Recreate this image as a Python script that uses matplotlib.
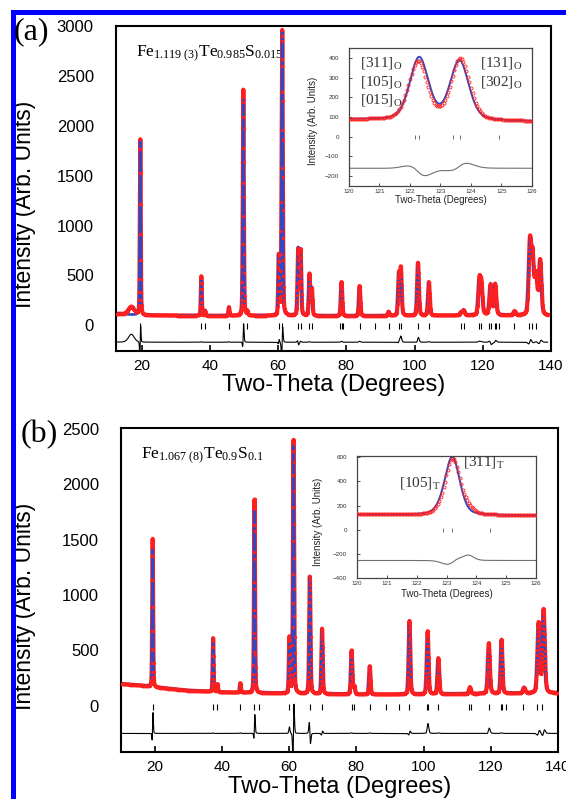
import numpy as np
import matplotlib
matplotlib.use('Agg')
import matplotlib.pyplot as plt
from matplotlib.patches import Rectangle

plt.rcParams['font.family'] = ['Liberation Sans', 'DejaVu Sans']
plt.rcParams['mathtext.fontset'] = 'custom'
plt.rcParams['mathtext.rm'] = 'Liberation Serif'
plt.rcParams['mathtext.it'] = 'Liberation Serif:italic'
plt.rcParams['mathtext.bf'] = 'Liberation Serif:bold'

RED = '#ff1f1f'
BLUE = '#3446c0'

# ---- panel (a): Fe1.119Te0.985S0.015 ----
bg_x_a = [12.5, 20, 40, 60, 80, 100, 120, 139]
bg_y_a = [115, 100, 95, 95, 92, 95, 100, 95]
pos_a = [19.6, 37.5, 38.6, 45.6, 49.8, 51.0, 60.2, 61.2, 65.9, 66.6, 69.2, 69.9,
         78.6, 83.9, 92.4, 95.4, 96.0, 101.0, 104.2, 113.6, 114.4, 119.0, 119.6,
         122.3, 123.6, 129.3, 133.8, 134.6, 135.6, 136.8]
calc_h_a = [1750, 390, 50, 80, 2160, 40, 580, 2850, 670, 640, 410, 270,
            330, 290, 40, 400, 400, 490, 330, 30, 50, 320, 280,
            310, 300, 40, 700, 560, 380, 540]
obs_h_a = [1760, 395, 50, 85, 2270, 40, 590, 2860, 660, 650, 415, 270,
           340, 300, 40, 405, 460, 530, 335, 30, 50, 330, 285,
           300, 310, 40, 710, 550, 385, 545]
obs_shift_a = [0.02, 0.0, 0.0, 0.0, 0.012, 0.0, 0.01, 0.015, -0.01, 0.0, 0.0, 0.0,
               0.0, 0.0, 0.0, 0.01, 0.0, 0.015, 0.0, 0.0, 0.0, 0.0, 0.0,
               -0.03, 0.02, 0.0, 0.02, 0.0, 0.0, 0.02]
fwhm_a = [0.30, 0.32, 0.35, 0.35, 0.35, 0.35, 0.38, 0.40, 0.45, 0.45, 0.45, 0.45,
          0.50, 0.50, 0.55, 0.55, 0.55, 0.60, 0.60, 0.70, 0.70, 0.75, 0.75,
          0.75, 0.75, 0.80, 0.85, 0.85, 0.85, 0.85]
extra_obs_a = ([17.0], [80], [2.0])   # amorphous bump present only in data
refl_a = [19.6, 37.5, 38.6, 45.6, 49.8, 51.0, 60.2, 61.2, 65.9, 66.6, 69.2, 69.9,
          78.2, 78.6, 79.0, 83.9, 88.5, 92.4, 95.4, 96.0, 101.0, 104.2, 113.6,
          114.4, 119.0, 119.6, 121.9, 122.3, 123.6, 124.0, 124.9, 129.3, 133.5,
          134.3, 135.6]

# ---- panel (b): Fe1.067Te0.9S0.1 ----
bg_x_b = [10, 15, 20, 30, 40, 60, 80, 100, 120, 140]
bg_y_b = [195, 185, 165, 135, 120, 108, 100, 100, 108, 112]
pos_b = [19.4, 37.4, 38.7, 45.5, 49.7, 60.1, 61.3, 66.2, 69.8, 78.6, 79.4, 84.0,
         95.8, 101.2, 104.4, 113.8, 119.4, 123.2, 129.9, 134.2, 135.7]
calc_h_b = [1240, 480, 70, 80, 1650, 440, 2245, 1055, 585, 390, 70, 250,
            660, 490, 320, 60, 415, 480, 50, 620, 740]
obs_h_b = [1340, 485, 70, 85, 1750, 500, 2295, 1060, 590, 395, 70, 255,
           665, 570, 325, 60, 455, 485, 50, 630, 750]
obs_shift_b = [0.02, 0.0, 0.0, 0.0, 0.015, 0.0, 0.03, -0.03, 0.01, 0.0, 0.0, 0.0,
               0.01, 0.02, 0.0, 0.0, 0.02, 0.0, 0.0, 0.02, 0.02]
fwhm_b = [0.30, 0.32, 0.35, 0.35, 0.35, 0.38, 0.40, 0.45, 0.45, 0.50, 0.50, 0.50,
          0.55, 0.60, 0.60, 0.70, 0.70, 0.60, 0.80, 0.80, 0.80]
refl_b = [19.4, 37.4, 38.7, 45.5, 49.7, 51.0, 60.1, 61.3, 66.2, 69.8, 78.6, 79.4,
          84.0, 88.7, 92.7, 95.8, 101.0, 101.4, 104.4, 113.5, 114.1, 119.4, 122.9,
          123.3, 124.5, 129.6, 133.9, 135.3]

# ---- insets (120-126 deg) ----
ins_bg_a = [88, 78]
ins_pos_a = [122.3, 123.62]
ins_calc_a = [315, 300]
ins_obs_a = [295, 312]
ins_shift_a = [-0.04, 0.03]
ins_fwhm_a = [0.72, 0.72]
ins_refl_a = [122.16, 122.3, 123.42, 123.64, 124.92]

ins_bg_b = [125, 118]
ins_pos_b = [122.87, 123.2]
ins_calc_b = [30, 470]
ins_obs_b = [30, 455]
ins_shift_b = [0.0, 0.02]
ins_fwhm_b = [0.6, 0.58]
ins_extra_b = ([123.75], [40], [0.4])
ins_refl_b = [122.87, 123.18, 124.45]


def profile(x, pos, hgt, fwhm, eta=0.3):
    y = np.zeros_like(x)
    for p, h, w in zip(pos, hgt, fwhm):
        d = (x - p) / w
        y += h * ((1 - eta) * np.exp(-4 * np.log(2) * d ** 2) + eta / (1 + 4 * d ** 2))
    return y


W, H = 566, 799
fig = plt.figure(figsize=(W / 100, H / 100), dpi=100)


def fig_rect(l, r, t, b):
    return [l / W, (H - b) / H, (r - l) / W, (b - t) / H]


def main_panel(rect, xlim, ylim, yticks, x, bg, calc, obs, refl, tick_y, diff_off,
               formula, ylab_x, xlab_y):
    ax = fig.add_axes(rect)
    ax.plot(x, obs, color=RED, lw=3.0, zorder=1.5, solid_joinstyle='round')
    ax.plot(x, calc, color=BLUE, lw=1.9, zorder=2)
    ax.plot(x[::2], obs[::2], 'o', color=RED, ms=2.3, mew=0, zorder=3)
    ax.plot(refl, np.full(len(refl), tick_y), '|', color='k', ms=5, mew=0.8)
    ax.plot(x, obs - calc + diff_off, color='k', lw=0.8)
    ax.set_xlim(*xlim)
    ax.set_ylim(*ylim)
    ax.set_xticks([20, 40, 60, 80, 100, 120, 140])
    ax.set_yticks(yticks)
    ax.tick_params(axis='x', direction='in', length=4, width=1.2, labelsize=11, pad=6)
    ax.tick_params(axis='y', length=0, labelsize=12, pad=16)
    for s in ax.spines.values():
        s.set_linewidth(1.5)
    ax.set_ylabel('Intensity (Arb. Units)', fontsize=16.5)
    ax.yaxis.set_label_coords(ylab_x, 0.45)
    ax.set_xlabel('Two-Theta (Degrees)', fontsize=17)
    ax.xaxis.label.set_va('center')
    ax.xaxis.set_label_coords(0.5, xlab_y)
    ax.text(0.045, 0.915, formula, transform=ax.transAxes, fontsize=12.5,
            va='center', ha='left', zorder=1)
    return ax


def inset(rect, ylim, yticks, bg, pos, hc, ho, sh, fw, refl, diff_off, labels,
          extra=None, ylab=(-0.17, 0.47), xlab=-0.1):
    ax = fig.add_axes(rect, facecolor='white', zorder=5)
    xi = np.linspace(120, 126, 601)
    xo = np.arange(120, 126.001, 0.05)
    b_i = np.interp(xi, [120, 126], bg)
    b_o = np.interp(xo, [120, 126], bg)
    calc_i = b_i + profile(xi, pos, hc, fw)
    calc_o = b_o + profile(xo, pos, hc, fw)
    obs_o = b_o + profile(xo, np.add(pos, sh), ho, fw)
    if extra is not None:
        obs_o += profile(xo, *extra)
    ax.plot(xi, calc_i, color=BLUE, lw=1.4, zorder=2)
    ax.plot(xo, obs_o, 'o', ms=2.2, mfc='none', mec=RED, mew=0.6, zorder=3)
    ax.plot(xo, obs_o - calc_o + diff_off, color='#707070', lw=0.8)
    ax.plot(refl, np.zeros(len(refl)), '|', color='#555555', ms=2.5, mew=0.6)
    ax.set_xlim(120, 126)
    ax.set_ylim(*ylim)
    ax.set_xticks(range(120, 127))
    ax.set_yticks(yticks)
    ax.tick_params(direction='in', length=2, width=0.6, labelsize=4.5, pad=2,
                   colors='#333333')
    ax.tick_params(axis='y', pad=7)
    for s in ax.spines.values():
        s.set_linewidth(0.9)
        s.set_color('#444444')
    ax.set_ylabel('Intensity (Arb. Units)', fontsize=7, color='#222222')
    ax.yaxis.set_label_coords(*ylab)
    ax.set_xlabel('Two-Theta (Degrees)', fontsize=7, color='#222222')
    ax.xaxis.label.set_va('center')
    ax.xaxis.set_label_coords(0.5, xlab)
    for (tx, ty, s) in labels:
        ax.text(tx, ty, s, fontsize=11, color='#333333', ha='left', va='center')
    return ax


# panel (a)
x_a = np.arange(12.5, 139.001, 0.02)
bg_a = np.interp(x_a, bg_x_a, bg_y_a)
calc_a = bg_a + profile(x_a, pos_a, calc_h_a, fwhm_a)
obs_a = bg_a + profile(x_a, np.add(pos_a, obs_shift_a), obs_h_a, fwhm_a) \
    + profile(x_a, *extra_obs_a)
main_panel(fig_rect(116, 551, 26, 351), (12.5, 139), (-258, 3000),
           range(0, 3001, 500), x_a, bg_a, calc_a, obs_a, refl_a, -12, -170,
           r'$\mathrm{Fe_{1.119\ (3)}Te_{0.985}S_{0.015}}$', -0.184, -0.105)
inset(fig_rect(349, 532, 48, 186), (-250, 450), range(-200, 401, 100),
      ins_bg_a, ins_pos_a, ins_calc_a, ins_obs_a, ins_shift_a, ins_fwhm_a,
      ins_refl_a, -160,
      [(120.36, 374, r'$\mathrm{[311]_O}$'), (120.36, 278, r'$\mathrm{[105]_O}$'),
       (120.36, 186, r'$\mathrm{[015]_O}$'), (124.3, 374, r'$\mathrm{[131]_O}$'),
       (124.3, 278, r'$\mathrm{[302]_O}$')])

# panel (b)
x_b = np.arange(10, 140.001, 0.02)
bg_b = np.interp(x_b, bg_x_b, bg_y_b)
calc_b = bg_b + profile(x_b, pos_b, calc_h_b, fwhm_b)
obs_b = bg_b + profile(x_b, np.add(pos_b, obs_shift_b), obs_h_b, fwhm_b)
main_panel(fig_rect(121, 558, 428, 752), (10, 140), (-420, 2510),
           range(0, 2501, 500), x_b, bg_b, calc_b, obs_b, refl_b, -10, -252,
           r'$\mathrm{Fe_{1.067\ (8)}Te_{0.9}S_{0.1}}$', -0.195, -0.108)
inset(fig_rect(357, 536, 456, 578), (-400, 610), range(-400, 601, 200),
      ins_bg_b, ins_pos_b, ins_calc_b, ins_obs_b, ins_shift_b, ins_fwhm_b,
      ins_refl_b, -255,
      [(121.4, 386, r'$\mathrm{[105]_T}$'), (123.55, 560, r'$\mathrm{[311]_T}$')],
      extra=ins_extra_b, ylab=(-0.19, 0.46), xlab=-0.13)

# panel letters
fig.text(14 / W, 1 - 32 / H, '(a)', fontsize=23, family='Liberation Serif',
         va='center', ha='left')
fig.text(21 / W, 1 - 435 / H, '(b)', fontsize=23, family='Liberation Serif',
         va='center', ha='left')

# blue page border
fig.add_artist(Rectangle((11 / W, 0), 4.5 / W, (H - 10) / H,
                         transform=fig.transFigure, color='#0000ff', lw=0))
fig.add_artist(Rectangle((11 / W, (H - 15) / H), 1 - 11 / W, 5 / H,
                         transform=fig.transFigure, color='#0000ff', lw=0))

fig.savefig('out.png', dpi=100)
